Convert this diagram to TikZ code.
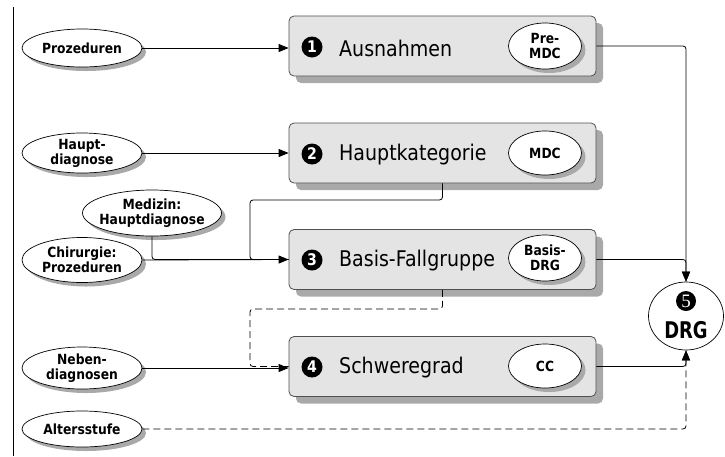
\documentclass[tikz,border=0pt]{standalone}
\usepackage{fontspec}
\setmainfont{DejaVu Sans}[FakeStretch=0.88]
\newfontfamily\drgfont{DejaVu Sans}[FakeStretch=0.78]
\newfontfamily\serifnum{Liberation Serif}
\usetikzlibrary{shapes.geometric,arrows.meta,shadows}
\definecolor{boxfill}{HTML}{E4E4E4}
\definecolor{shadowgray}{HTML}{A9A9A9}
\definecolor{edgegray}{HTML}{505050}
\tikzset{
  stepbox/.style={draw=edgegray, line width=0.8pt, fill=boxfill, rounded corners=5pt,
    minimum width=307pt, minimum height=60pt, inner sep=0pt,
    drop shadow={shadow xshift=7pt, shadow yshift=-7pt, fill=shadowgray, opacity=1}},
  ell/.style={ellipse, draw=black, line width=0.7pt, fill=white, inner sep=0pt,
    drop shadow={shadow xshift=4pt, shadow yshift=-4pt, fill=shadowgray, opacity=1}},
  lab/.style={font=\bfseries\fontsize{14}{15}\selectfont, align=center, inner sep=0pt},
  boxtext/.style={font=\fontsize{21.6}{24}\selectfont, anchor=west, inner sep=0pt},
  num/.style={circle, fill=black, text=white, minimum size=21pt, inner sep=0pt,
    font=\bfseries\fontsize{16}{16}\selectfont},
  conn/.style={line width=0.8pt, rounded corners=3pt},
  dsh/.style={dash pattern=on 7pt off 4pt},
  arr/.style={conn, -{Triangle[length=10pt,width=8pt]}},
}
\begin{document}
\begin{tikzpicture}[x=1pt,y=-1pt]
\useasboundingbox (0,0) rectangle (725,456);
\fill[white] (0,0) rectangle (725,456);
\draw[line width=0.8pt] (13,7) -- (13,456);

% main boxes
\node[stepbox] (b1) at (442.5,46) {};
\node[stepbox] (b2) at (442.5,153) {};
\node[stepbox] (b3) at (442.5,259.5) {};
\node[stepbox] (b4) at (442.5,366.5) {};

\node[num] (n1) at (312,47) {1};
\node[num] (n2) at (312,154) {2};
\node[num] (n3) at (312,260) {3};
\node[num] (n4) at (312,367) {4};
\node[boxtext] (t1) at (339,48) {Ausnahmen};
\node[boxtext] (t2) at (339,155) {Hauptkategorie};
\node[boxtext] (t3) at (339,261) {Basis-Fallgruppe};
\node[boxtext] (t4) at (339,368) {Schweregrad};

% inner ellipses
\node[ell, minimum width=73pt, minimum height=46pt, label={[lab]center:{Pre-\\MDC}}] (e1) at (545,46) {};
\node[ell, minimum width=73pt, minimum height=44pt, label={[lab]center:{MDC}}] (e2) at (545,153) {};
\node[ell, minimum width=73pt, minimum height=46pt, label={[lab]center:{Basis-\\DRG}}] (e3) at (545,258) {};
\node[ell, minimum width=73pt, minimum height=44pt, label={[lab]center:{CC}}] (e4) at (545,366) {};

% input ellipses
\node[ell, minimum width=120pt, minimum height=38pt, label={[lab]center:{Prozeduren}}] (pro) at (82,48) {};
\node[ell, minimum width=120pt, minimum height=40pt, label={[lab]center:{Haupt-\\diagnose}}] (hd) at (82,153) {};
\node[ell, minimum width=120pt, minimum height=45pt, label={[lab]center:{Chirurgie:\\Prozeduren}}] (ch) at (82,260) {};
\node[ell, minimum width=139pt, minimum height=46pt, label={[lab]center:{Medizin:\\Hauptdiagnose}}] (med) at (152,213) {};
\node[ell, minimum width=120pt, minimum height=42pt, label={[lab]center:{Neben-\\diagnosen}}] (nd) at (82,368) {};
\node[ell, minimum width=120pt, minimum height=36pt, label={[lab]center:{Altersstufe}}] (alt) at (82,429) {};

% DRG
\node[ellipse, draw=black, line width=0.7pt, fill=white, minimum width=75pt, minimum height=68pt, inner sep=0pt] (drg) at (686,316) {};
\node[circle, fill=black, text=white, minimum size=20pt, inner sep=0pt, font=\serifnum\fontsize{19}{19}\selectfont] (n5) at (686,301) {5};
\node[font=\drgfont\bfseries\fontsize{23}{23}\selectfont, inner sep=0pt] (drgt) at (686,330) {DRG};

% connectors
\coordinate (j1) at (250,200);
\coordinate (j2) at (250,309);
\draw[conn] (med.south) |- (b3.west);
\draw[conn] (b2.south) |- (j1) |- (b3.west);
\draw[conn, dsh] (b3.south) |- (j2) |- (b4.west);
\draw[arr] (pro.east) -- (b1.west |- pro.east);
\draw[arr] (hd.east) -- (b2.west);
\draw[arr] (ch.east) -- (b3.west);
\draw[arr] (nd.east) -- (b4.west |- nd.east);
\draw[arr] (b1.east) -| (drg.north);
\draw[arr] (b3.east) -| (drg.north);
\draw[arr] (b4.east) -| (drg.south);
\draw[arr, dsh] (alt.east) -| (drg.south);
\end{tikzpicture}
\end{document}
